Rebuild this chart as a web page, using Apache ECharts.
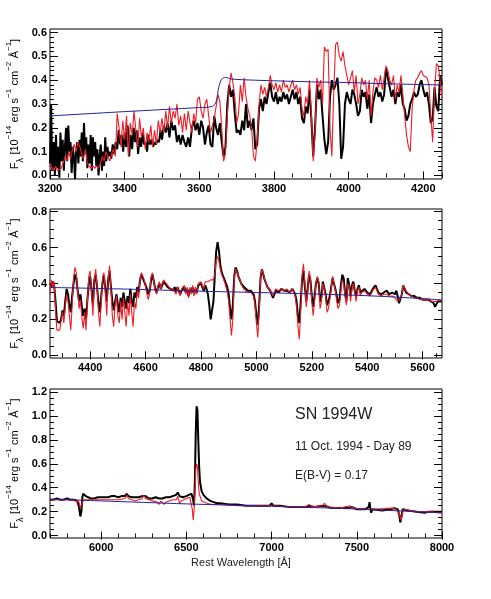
<!DOCTYPE html>
<html>
<head>
<meta charset="utf-8">
<script src="https://cdn.jsdelivr.net/npm/echarts@6/dist/echarts.min.js"></script>
<style>html,body{margin:0;background:#fff}#main{width:491px;height:599px}</style>
</head>
<body>
<div id="main"></div>
<script>
var FONT = '"Liberation Sans", Arial, Helvetica, sans-serif';

// axis ranges and tick labels
var p1X = [3200, 4250], p1Y = [-0.015, 0.615];
var p2X = [4255, 5670], p2Y = [-0.015, 0.815];
var p3X = [5700, 8000], p3Y = [-0.02, 1.225];
var p1XTicks = [3200, 3400, 3600, 3800, 4000, 4200];
var p1YTicks = [0, 0.1, 0.2, 0.3, 0.4, 0.5, 0.6];
var p2XTicks = [4400, 4600, 4800, 5000, 5200, 5400, 5600];
var p2YTicks = [0, 0.2, 0.4, 0.6, 0.8];
var p3XTicks = [6000, 6500, 7000, 7500, 8000];
var p3YTicks = [0, 0.2, 0.4, 0.6, 0.8, 1.0, 1.2];

// panel 1 : 3200-4250
var p1Black = [[3200,0.05],[3203,0.30],[3206,0.02],[3210,0.14],[3213,0.00],[3216,0.17],[3219,0.03],[3222,0.12],[3225,-0.01],[3228,0.18],[3231,0.06],[3234,0.15],[3237,0.02],[3240,0.12],[3243,0.20],[3246,0.06],[3249,0.21],[3252,0.10],[3255,0.14],[3258,0.01],[3261,0.12],[3264,0.08],[3267,-0.015],[3270,0.10],[3273,0.14],[3276,0.05],[3279,0.15],[3282,0.08],[3285,0.18],[3288,0.06],[3291,0.22],[3294,0.09],[3297,0.16],[3300,0.03],[3303,0.13],[3306,0.05],[3309,0.17],[3312,0.02],[3315,0.16],[3318,0.08],[3321,0.14],[3324,0.04],[3327,0.11],[3330,0.00],[3333,0.08],[3336,0.13],[3339,0.02],[3342,0.10],[3345,0.04],[3348,0.16],[3351,0.06],[3354,0.12],[3357,0.08],[3360,0.10],[3364,0.07],[3368,0.13],[3372,0.09],[3376,0.14],[3380,0.11],[3384,0.19],[3388,0.13],[3392,0.17],[3396,0.10],[3400,0.18],[3404,0.12],[3408,0.21],[3412,0.08],[3416,0.17],[3420,0.11],[3424,0.20],[3428,0.14],[3432,0.19],[3436,0.09],[3440,0.16],[3444,0.12],[3448,0.18],[3452,0.13],[3456,0.14],[3460,0.10],[3464,0.17],[3468,0.13],[3472,0.15],[3476,0.12],[3480,0.14],[3484,0.13],[3488,0.15],[3492,0.14],[3496,0.19],[3500,0.15],[3505,0.21],[3510,0.18],[3515,0.22],[3520,0.16],[3525,0.23],[3530,0.19],[3535,0.21],[3540,0.14],[3545,0.17],[3550,0.13],[3555,0.17],[3560,0.14],[3565,0.12],[3570,0.16],[3575,0.12],[3580,0.20],[3585,0.23],[3590,0.19],[3595,0.22],[3600,0.17],[3605,0.23],[3610,0.20],[3615,0.13],[3620,0.18],[3625,0.21],[3630,0.13],[3635,0.12],[3640,0.25],[3645,0.20],[3650,0.17],[3655,0.22],[3660,0.14],[3665,0.08],[3670,0.12],[3675,0.30],[3680,0.38],[3685,0.33],[3690,0.36],[3695,0.26],[3700,0.18],[3705,0.19],[3710,0.17],[3715,0.23],[3720,0.19],[3725,0.30],[3730,0.20],[3735,0.23],[3740,0.19],[3745,0.24],[3750,0.11],[3755,0.13],[3760,0.28],[3765,0.32],[3770,0.27],[3775,0.33],[3780,0.30],[3785,0.35],[3790,0.39],[3795,0.33],[3800,0.31],[3805,0.35],[3810,0.30],[3815,0.33],[3820,0.31],[3825,0.35],[3830,0.32],[3835,0.34],[3840,0.30],[3845,0.33],[3850,0.36],[3855,0.32],[3860,0.35],[3865,0.30],[3870,0.33],[3875,0.24],[3880,0.22],[3885,0.29],[3890,0.26],[3895,0.36],[3900,0.24],[3905,0.08],[3910,0.20],[3915,0.38],[3920,0.32],[3925,0.36],[3930,0.25],[3935,0.15],[3940,0.09],[3945,0.14],[3950,0.33],[3955,0.40],[3960,0.36],[3965,0.38],[3970,0.41],[3975,0.30],[3980,0.07],[3985,0.12],[3990,0.30],[3995,0.35],[4000,0.32],[4005,0.30],[4010,0.36],[4015,0.34],[4020,0.30],[4025,0.25],[4030,0.27],[4035,0.36],[4040,0.33],[4045,0.35],[4050,0.28],[4055,0.34],[4060,0.22],[4065,0.30],[4070,0.34],[4075,0.37],[4080,0.33],[4085,0.35],[4090,0.31],[4095,0.34],[4100,0.45],[4105,0.41],[4110,0.37],[4115,0.33],[4120,0.36],[4125,0.30],[4130,0.35],[4135,0.33],[4140,0.38],[4145,0.30],[4150,0.28],[4155,0.23],[4160,0.25],[4165,0.30],[4170,0.32],[4175,0.35],[4180,0.33],[4185,0.34],[4190,0.38],[4195,0.40],[4200,0.36],[4205,0.33],[4210,0.35],[4215,0.30],[4220,0.22],[4225,0.24],[4230,0.37],[4235,0.29],[4240,0.27],[4245,0.42],[4250,0.38]];
var p1Red = [[3200,0.05],[3205,0.03],[3210,0.02],[3215,0.04],[3220,0.02],[3225,0.02],[3230,0.03],[3235,0.05],[3240,0.08],[3245,0.06],[3250,0.10],[3255,0.07],[3260,0.11],[3265,0.13],[3270,0.10],[3275,0.14],[3280,0.12],[3285,0.09],[3290,0.07],[3295,0.11],[3300,0.05],[3305,0.04],[3310,0.03],[3315,0.04],[3320,0.03],[3325,0.04],[3330,0.03],[3335,0.05],[3340,0.08],[3345,0.06],[3350,0.10],[3355,0.08],[3360,0.06],[3365,0.09],[3370,0.11],[3375,0.08],[3380,0.26],[3385,0.20],[3390,0.12],[3395,0.23],[3400,0.15],[3405,0.25],[3410,0.08],[3415,0.22],[3420,0.17],[3425,0.27],[3430,0.19],[3435,0.12],[3440,0.24],[3445,0.16],[3450,0.20],[3455,0.11],[3460,0.18],[3465,0.14],[3470,0.21],[3475,0.12],[3480,0.19],[3485,0.13],[3490,0.23],[3495,0.18],[3500,0.24],[3505,0.18],[3510,0.27],[3515,0.20],[3520,0.29],[3525,0.22],[3530,0.27],[3535,0.24],[3540,0.30],[3545,0.21],[3550,0.25],[3555,0.18],[3560,0.26],[3565,0.19],[3570,0.27],[3575,0.22],[3580,0.18],[3585,0.26],[3590,0.22],[3595,0.32],[3600,0.33],[3605,0.27],[3610,0.24],[3615,0.30],[3620,0.32],[3625,0.25],[3630,0.18],[3635,0.21],[3640,0.24],[3645,0.29],[3650,0.34],[3655,0.31],[3660,0.20],[3665,0.06],[3670,0.09],[3675,0.25],[3680,0.37],[3685,0.43],[3690,0.39],[3695,0.33],[3700,0.22],[3705,0.26],[3710,0.38],[3715,0.31],[3720,0.41],[3725,0.33],[3730,0.28],[3735,0.25],[3740,0.20],[3745,0.08],[3750,0.06],[3755,0.15],[3760,0.30],[3765,0.38],[3770,0.34],[3775,0.37],[3780,0.33],[3785,0.37],[3790,0.42],[3795,0.38],[3800,0.36],[3805,0.39],[3810,0.35],[3815,0.38],[3820,0.35],[3825,0.40],[3830,0.37],[3835,0.38],[3840,0.35],[3845,0.38],[3850,0.40],[3855,0.36],[3860,0.38],[3865,0.34],[3870,0.37],[3875,0.28],[3880,0.25],[3885,0.33],[3890,0.30],[3895,0.40],[3900,0.26],[3905,0.06],[3910,0.18],[3915,0.41],[3920,0.37],[3925,0.40],[3930,0.30],[3935,0.54],[3940,0.52],[3945,0.53],[3950,0.20],[3955,0.08],[3960,0.35],[3965,0.55],[3970,0.56],[3975,0.50],[3980,0.48],[3985,0.52],[3990,0.46],[3995,0.42],[4000,0.38],[4005,0.41],[4010,0.44],[4015,0.35],[4020,0.42],[4025,0.30],[4030,0.34],[4035,0.41],[4040,0.38],[4045,0.40],[4050,0.32],[4055,0.40],[4060,0.25],[4065,0.35],[4070,0.41],[4075,0.40],[4080,0.37],[4085,0.42],[4090,0.36],[4095,0.41],[4100,0.46],[4105,0.44],[4110,0.40],[4115,0.38],[4120,0.42],[4125,0.32],[4130,0.38],[4135,0.35],[4140,0.42],[4145,0.34],[4150,0.25],[4155,0.17],[4160,0.12],[4165,0.10],[4170,0.28],[4175,0.36],[4180,0.40],[4185,0.41],[4190,0.43],[4195,0.44],[4200,0.42],[4205,0.42],[4210,0.41],[4215,0.38],[4220,0.25],[4225,0.14],[4230,0.35],[4235,0.47],[4240,0.46],[4245,0.40],[4250,0.32]];
var p1Blue = [[3200,0.250],[3400,0.268],[3600,0.285],[3635,0.290],[3645,0.310],[3652,0.370],[3660,0.405],[3670,0.412],[3685,0.405],[3750,0.400],[3900,0.393],[4000,0.390],[4100,0.385],[4250,0.380]];

// panel 2 : 4255-5670
var p2Black = [[4255,0.40],[4260,0.38],[4265,0.41],[4270,0.39],[4275,0.30],[4280,0.19],[4285,0.18],[4290,0.18],[4295,0.20],[4300,0.25],[4305,0.22],[4310,0.30],[4315,0.37],[4320,0.34],[4325,0.28],[4330,0.24],[4335,0.33],[4340,0.40],[4345,0.45],[4350,0.43],[4355,0.36],[4360,0.30],[4365,0.34],[4370,0.27],[4375,0.22],[4380,0.26],[4385,0.20],[4390,0.31],[4395,0.40],[4400,0.44],[4405,0.36],[4410,0.28],[4415,0.42],[4420,0.45],[4425,0.38],[4430,0.29],[4435,0.24],[4440,0.33],[4445,0.41],[4450,0.44],[4455,0.37],[4460,0.30],[4465,0.42],[4470,0.47],[4475,0.38],[4480,0.30],[4485,0.25],[4490,0.30],[4495,0.34],[4500,0.28],[4505,0.24],[4510,0.32],[4515,0.27],[4520,0.35],[4525,0.30],[4530,0.26],[4535,0.33],[4540,0.29],[4545,0.37],[4550,0.30],[4555,0.27],[4560,0.35],[4565,0.32],[4570,0.38],[4575,0.35],[4580,0.42],[4585,0.45],[4590,0.43],[4595,0.41],[4600,0.40],[4605,0.37],[4610,0.34],[4615,0.36],[4620,0.42],[4625,0.45],[4630,0.41],[4635,0.37],[4640,0.35],[4645,0.38],[4650,0.40],[4655,0.37],[4660,0.39],[4665,0.41],[4670,0.40],[4680,0.38],[4690,0.37],[4700,0.36],[4705,0.38],[4710,0.35],[4715,0.38],[4720,0.37],[4725,0.34],[4730,0.36],[4740,0.38],[4745,0.35],[4750,0.37],[4755,0.33],[4760,0.37],[4765,0.35],[4770,0.38],[4775,0.34],[4780,0.37],[4785,0.35],[4790,0.39],[4795,0.38],[4800,0.40],[4805,0.38],[4810,0.36],[4815,0.39],[4820,0.37],[4825,0.34],[4830,0.28],[4835,0.20],[4840,0.19],[4845,0.30],[4850,0.45],[4855,0.58],[4860,0.63],[4865,0.58],[4870,0.50],[4875,0.46],[4880,0.44],[4885,0.42],[4890,0.40],[4895,0.38],[4900,0.34],[4905,0.26],[4910,0.20],[4915,0.28],[4920,0.44],[4925,0.49],[4930,0.47],[4935,0.44],[4940,0.42],[4945,0.40],[4950,0.39],[4955,0.38],[4960,0.37],[4970,0.36],[4980,0.36],[4990,0.34],[4995,0.30],[5000,0.22],[5005,0.17],[5010,0.28],[5015,0.43],[5020,0.48],[5025,0.45],[5030,0.42],[5035,0.40],[5040,0.38],[5045,0.37],[5050,0.36],[5055,0.34],[5060,0.32],[5065,0.33],[5070,0.36],[5080,0.35],[5090,0.37],[5100,0.36],[5110,0.36],[5120,0.35],[5130,0.37],[5140,0.34],[5145,0.30],[5150,0.22],[5155,0.18],[5160,0.30],[5165,0.42],[5170,0.47],[5175,0.38],[5180,0.30],[5185,0.37],[5190,0.45],[5195,0.42],[5200,0.33],[5205,0.27],[5210,0.33],[5215,0.40],[5220,0.43],[5225,0.40],[5230,0.30],[5235,0.33],[5240,0.41],[5245,0.40],[5250,0.34],[5255,0.28],[5260,0.30],[5265,0.33],[5270,0.38],[5275,0.43],[5280,0.42],[5285,0.37],[5290,0.33],[5295,0.29],[5300,0.31],[5305,0.39],[5310,0.45],[5315,0.43],[5320,0.35],[5325,0.30],[5330,0.43],[5335,0.39],[5340,0.33],[5345,0.39],[5350,0.41],[5355,0.36],[5360,0.33],[5365,0.37],[5370,0.39],[5375,0.35],[5380,0.36],[5390,0.37],[5400,0.35],[5410,0.34],[5420,0.37],[5430,0.39],[5435,0.38],[5440,0.35],[5450,0.34],[5460,0.35],[5470,0.36],[5480,0.34],[5490,0.35],[5500,0.34],[5505,0.36],[5510,0.33],[5515,0.29],[5520,0.30],[5525,0.34],[5530,0.39],[5535,0.38],[5540,0.35],[5550,0.34],[5560,0.33],[5570,0.33],[5580,0.32],[5590,0.32],[5600,0.31],[5610,0.31],[5620,0.31],[5630,0.30],[5640,0.29],[5645,0.27],[5650,0.27],[5655,0.30],[5660,0.31],[5665,0.30],[5670,0.30]];
var p2Red = [[4255,0.34],[4260,0.42],[4265,0.38],[4270,0.41],[4275,0.25],[4280,0.14],[4285,0.13],[4290,0.14],[4295,0.19],[4300,0.24],[4305,0.18],[4310,0.27],[4315,0.34],[4320,0.30],[4325,0.22],[4330,0.14],[4335,0.28],[4340,0.43],[4345,0.49],[4350,0.46],[4355,0.36],[4360,0.26],[4365,0.31],[4370,0.21],[4375,0.15],[4380,0.24],[4385,0.14],[4390,0.30],[4395,0.44],[4400,0.47],[4405,0.35],[4410,0.22],[4415,0.42],[4420,0.48],[4425,0.38],[4430,0.24],[4435,0.16],[4440,0.30],[4445,0.44],[4450,0.46],[4455,0.34],[4460,0.22],[4465,0.43],[4470,0.50],[4475,0.37],[4480,0.22],[4485,0.16],[4490,0.28],[4495,0.33],[4500,0.22],[4505,0.18],[4510,0.30],[4515,0.20],[4520,0.32],[4525,0.24],[4530,0.16],[4535,0.30],[4540,0.22],[4545,0.34],[4550,0.24],[4555,0.16],[4560,0.30],[4565,0.26],[4570,0.36],[4575,0.32],[4580,0.42],[4585,0.46],[4590,0.44],[4595,0.42],[4600,0.38],[4605,0.34],[4610,0.31],[4615,0.35],[4620,0.44],[4625,0.46],[4630,0.41],[4635,0.36],[4640,0.34],[4645,0.39],[4650,0.41],[4655,0.37],[4660,0.40],[4665,0.42],[4670,0.41],[4680,0.39],[4690,0.37],[4700,0.37],[4705,0.38],[4710,0.34],[4715,0.38],[4720,0.38],[4725,0.33],[4730,0.37],[4740,0.39],[4745,0.34],[4750,0.38],[4755,0.32],[4760,0.38],[4765,0.34],[4770,0.39],[4775,0.33],[4780,0.38],[4785,0.34],[4790,0.40],[4795,0.39],[4800,0.41],[4805,0.39],[4810,0.37],[4815,0.41],[4820,0.40],[4825,0.41],[4830,0.41],[4835,0.42],[4840,0.41],[4845,0.42],[4850,0.45],[4855,0.53],[4860,0.55],[4865,0.52],[4870,0.48],[4875,0.45],[4880,0.43],[4885,0.41],[4890,0.38],[4895,0.35],[4900,0.30],[4905,0.20],[4910,0.11],[4915,0.20],[4920,0.42],[4925,0.48],[4930,0.47],[4935,0.44],[4940,0.42],[4945,0.40],[4950,0.38],[4955,0.37],[4960,0.36],[4970,0.35],[4980,0.35],[4990,0.33],[4995,0.28],[5000,0.18],[5005,0.10],[5010,0.24],[5015,0.42],[5020,0.48],[5025,0.46],[5030,0.42],[5035,0.40],[5040,0.38],[5045,0.37],[5050,0.36],[5055,0.35],[5060,0.33],[5065,0.34],[5070,0.37],[5080,0.36],[5090,0.37],[5100,0.36],[5110,0.37],[5120,0.35],[5130,0.37],[5140,0.33],[5145,0.27],[5150,0.16],[5155,0.09],[5160,0.25],[5165,0.45],[5170,0.51],[5175,0.40],[5180,0.27],[5185,0.35],[5190,0.47],[5195,0.43],[5200,0.30],[5205,0.22],[5210,0.30],[5215,0.40],[5220,0.44],[5225,0.41],[5230,0.26],[5235,0.30],[5240,0.40],[5245,0.41],[5250,0.33],[5255,0.24],[5260,0.26],[5265,0.31],[5270,0.37],[5275,0.44],[5280,0.43],[5285,0.36],[5290,0.30],[5295,0.26],[5300,0.28],[5305,0.36],[5310,0.42],[5315,0.40],[5320,0.33],[5325,0.28],[5330,0.40],[5335,0.38],[5340,0.30],[5345,0.37],[5350,0.40],[5355,0.35],[5360,0.30],[5365,0.36],[5370,0.38],[5375,0.33],[5380,0.35],[5390,0.36],[5400,0.34],[5410,0.33],[5420,0.36],[5430,0.38],[5435,0.37],[5440,0.34],[5450,0.33],[5460,0.34],[5470,0.34],[5480,0.33],[5490,0.33],[5500,0.32],[5505,0.33],[5510,0.30],[5515,0.30],[5520,0.32],[5525,0.34],[5530,0.39],[5535,0.39],[5540,0.36],[5550,0.34],[5560,0.33],[5570,0.32],[5580,0.32],[5590,0.31],[5600,0.31],[5610,0.31],[5620,0.31],[5630,0.30],[5640,0.30],[5645,0.29],[5650,0.30],[5655,0.31],[5660,0.31],[5665,0.30],[5670,0.30]];
var p2Blue = [[4255,0.378],[4500,0.370],[4800,0.357],[5000,0.350],[5200,0.342],[5400,0.332],[5600,0.316],[5670,0.308]];

// panel 3 : 5700-8000
var p3Black = [[5700,0.30],[5720,0.30],[5740,0.31],[5760,0.30],[5780,0.30],[5800,0.31],[5820,0.30],[5840,0.30],[5850,0.30],[5860,0.29],[5870,0.24],[5878,0.16],[5884,0.20],[5890,0.32],[5895,0.35],[5900,0.34],[5910,0.33],[5920,0.32],[5940,0.31],[5960,0.31],[5980,0.32],[5990,0.33],[6000,0.32],[6020,0.32],[6040,0.32],[6060,0.33],[6080,0.33],[6100,0.32],[6120,0.33],[6140,0.33],[6150,0.35],[6160,0.33],[6180,0.32],[6200,0.32],[6220,0.32],[6240,0.33],[6250,0.34],[6260,0.33],[6280,0.31],[6300,0.31],[6320,0.32],[6340,0.31],[6360,0.31],[6380,0.32],[6400,0.32],[6420,0.33],[6440,0.34],[6450,0.36],[6460,0.33],[6480,0.32],[6500,0.33],[6515,0.34],[6530,0.35],[6540,0.30],[6545,0.25],[6550,0.45],[6555,0.85],[6560,1.08],[6565,1.05],[6570,0.80],[6575,0.58],[6580,0.45],[6590,0.37],[6600,0.34],[6620,0.31],[6640,0.29],[6660,0.28],[6680,0.27],[6700,0.27],[6750,0.26],[6800,0.26],[6850,0.25],[6900,0.25],[6950,0.25],[6990,0.25],[7000,0.27],[7010,0.25],[7050,0.25],[7100,0.24],[7150,0.24],[7200,0.24],[7220,0.25],[7250,0.24],[7300,0.25],[7310,0.26],[7330,0.24],[7350,0.23],[7400,0.23],[7450,0.23],[7470,0.24],[7500,0.22],[7550,0.22],[7570,0.24],[7575,0.28],[7580,0.22],[7585,0.19],[7590,0.22],[7600,0.22],[7650,0.21],[7700,0.22],[7720,0.23],[7740,0.22],[7750,0.17],[7755,0.11],[7760,0.14],[7770,0.22],[7780,0.22],[7800,0.21],[7850,0.20],[7900,0.19],[7920,0.20],[7950,0.20],[8000,0.20]];
var p3Red = [[5700,0.30],[5750,0.30],[5800,0.30],[5850,0.29],[5870,0.28],[5878,0.23],[5884,0.24],[5890,0.28],[5900,0.30],[5950,0.30],[6000,0.30],[6050,0.30],[6100,0.30],[6140,0.31],[6150,0.34],[6160,0.31],[6200,0.29],[6240,0.31],[6250,0.34],[6260,0.31],[6300,0.29],[6330,0.28],[6340,0.26],[6350,0.29],[6370,0.26],[6380,0.28],[6400,0.29],[6420,0.30],[6440,0.30],[6450,0.33],[6460,0.27],[6470,0.29],[6480,0.28],[6500,0.31],[6520,0.32],[6530,0.32],[6535,0.22],[6540,0.13],[6545,0.20],[6550,0.35],[6555,0.55],[6560,0.60],[6565,0.58],[6570,0.45],[6575,0.36],[6580,0.33],[6590,0.29],[6600,0.28],[6620,0.27],[6650,0.26],[6700,0.26],[6800,0.25],[6900,0.25],[7000,0.25],[7100,0.24],[7200,0.24],[7220,0.26],[7240,0.24],[7300,0.25],[7310,0.27],[7330,0.24],[7400,0.23],[7460,0.25],[7480,0.23],[7550,0.22],[7600,0.22],[7700,0.23],[7710,0.24],[7730,0.22],[7750,0.18],[7760,0.13],[7770,0.20],[7780,0.22],[7850,0.20],[7900,0.20],[8000,0.19]];
var p3Blue = [[5700,0.305],[6000,0.290],[6500,0.265],[7000,0.245],[7500,0.222],[8000,0.190]];

var panels = [
  { top: 29, height: 150, x: p1X, y: p1Y, xt: p1XTicks, yt: p1YTicks, xm: 50, ym: 0.02, black: p1Black, red: p1Red, blue: p1Blue },
  { top: 209, height: 149, x: p2X, y: p2Y, xt: p2XTicks, yt: p2YTicks, xm: 50, ym: 0.05, black: p2Black, red: p2Red, blue: p2Blue },
  { top: 389, height: 149, x: p3X, y: p3Y, xt: p3XTicks, yt: p3YTicks, xm: 100, ym: 0.05, black: p3Black, red: p3Red, blue: p3Blue }
];

// minor tick positions inside a range
function minors(r, step) {
  var out = [];
  for (var k = Math.ceil(r[0] / step - 1e-9); k <= Math.floor(r[1] / step + 1e-9); k++) {
    out.push(+(k * step).toFixed(4));
  }
  return out;
}

var grid = [], xAxis = [], yAxis = [], series = [];
var tickStyle = { color: '#000', width: 1 };
var lblStyle = { color: '#000', fontFamily: FONT, fontSize: 11, fontWeight: 'bold' };

panels.forEach(function (p, i) {
  var box = { left: 50, width: 392, top: p.top, height: p.height };
  grid.push(Object.assign({ show: true, borderColor: '#000', borderWidth: 1, backgroundColor: 'transparent' }, box));
  grid.push(Object.assign({ show: false }, box));
  var gMain = 2 * i, gMinor = 2 * i + 1;
  var xm = minors(p.x, p.xm), ym = minors(p.y, p.ym);

  function xa(g, pos, ticks, len, labels) {
    return {
      gridIndex: g, type: 'value', position: pos, min: p.x[0], max: p.x[1],
      axisLine: { show: false }, splitLine: { show: false },
      axisTick: { show: true, inside: true, length: len, customValues: ticks, lineStyle: tickStyle },
      axisLabel: labels ? Object.assign({ customValues: ticks, margin: 4, formatter: function (v) { return String(v); } }, lblStyle) : { show: false }
    };
  }
  function ya(g, pos, ticks, len, labels) {
    return {
      gridIndex: g, type: 'value', position: pos, min: p.y[0], max: p.y[1],
      axisLine: { show: false }, splitLine: { show: false },
      axisTick: { show: true, inside: true, length: len, customValues: ticks, lineStyle: tickStyle },
      axisLabel: labels ? Object.assign({ customValues: ticks, margin: 3, formatter: function (v) { return v.toFixed(1); } }, lblStyle) : { show: false }
    };
  }
  xAxis.push(xa(gMain, 'bottom', p.xt, 4, true));
  xAxis.push(xa(gMain, 'top', p.xt, 4, false));
  xAxis.push(xa(gMinor, 'bottom', xm, 2, false));
  xAxis.push(xa(gMinor, 'top', xm, 2, false));
  yAxis.push(ya(gMain, 'left', p.yt, 8, true));
  yAxis.push(ya(gMain, 'right', p.yt, 8, false));
  yAxis.push(ya(gMinor, 'left', ym, 4, false));
  yAxis.push(ya(gMinor, 'right', ym, 4, false));

  var ax = 4 * i;
  series.push({ type: 'line', xAxisIndex: ax, yAxisIndex: ax, data: p.black, showSymbol: false, clip: true,
    lineStyle: { color: '#000', width: 2 }, z: 2 });
  series.push({ type: 'line', xAxisIndex: ax, yAxisIndex: ax, data: p.red, showSymbol: false, clip: true,
    lineStyle: { color: '#ee1c24', width: 1.1 }, z: 3 });
  series.push({ type: 'line', xAxisIndex: ax, yAxisIndex: ax, data: p.blue, showSymbol: false, clip: true, smooth: 0.3,
    lineStyle: { color: '#23239a', width: 1 }, z: 4 });
});

var yTitle = '{b|F}{s|λ} {b|[10}{p|−14} {b|erg s}{p|−1} {b|cm}{p|−2} {b|Å}{p|−1}{b|]}';
var titleRich = {
  b: { fontSize: 11, fontFamily: FONT, fill: '#000', lineHeight: 20 },
  p: { fontSize: 8, fontFamily: FONT, fill: '#000', lineHeight: 10, verticalAlign: 'top' },
  s: { fontSize: 9, fontFamily: FONT, fill: '#000', lineHeight: 10, verticalAlign: 'bottom' }
};
var graphics = panels.map(function (p) {
  return { type: 'text', x: 15, y: p.top + p.height / 2, rotation: Math.PI / 2,
    style: { text: yTitle, rich: titleRich, align: 'center', verticalAlign: 'middle', fill: '#000' } };
});
graphics.push({ type: 'text', x: 295, y: 415, style: { text: 'SN 1994W', fontSize: 16, fontFamily: FONT, fill: '#222', verticalAlign: 'middle' } });
graphics.push({ type: 'text', x: 295, y: 447, style: { text: '11 Oct. 1994 - Day 89', fontSize: 12, fontFamily: FONT, fill: '#222', verticalAlign: 'middle' } });
graphics.push({ type: 'text', x: 295, y: 476, style: { text: 'E(B-V) = 0.17', fontSize: 12, fontFamily: FONT, fill: '#222', verticalAlign: 'middle' } });
graphics.push({ type: 'text', x: 241, y: 563, style: { text: 'Rest Wavelength [Å]', fontSize: 11, fontFamily: FONT, fill: '#222', align: 'center', verticalAlign: 'middle' } });

var chart = echarts.init(document.getElementById('main'));
chart.setOption({
  animation: false,
  backgroundColor: '#fff',
  grid: grid,
  xAxis: xAxis,
  yAxis: yAxis,
  series: series,
  graphic: graphics
});
</script>
</body>
</html>
